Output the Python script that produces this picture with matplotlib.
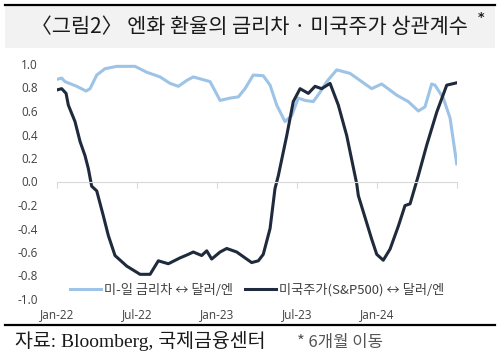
import matplotlib.pyplot as plt
import matplotlib.lines as mlines

plt.rcParams['font.family'] = ['Noto Sans CJK KR', 'DejaVu Sans']

# months since Jan-2022
rate_x = [0.02, 0.35, 0.6, 1.48, 2.18, 2.48, 2.98, 3.6, 4.48, 5.85, 6.73, 7.73, 8.48, 9.1, 9.73,
          10.22, 11.48, 12.23, 12.98, 13.6, 14.1, 14.72, 15.47, 15.98, 16.48, 17.1, 17.6, 18.1,
          18.6, 19.22, 19.73, 20.23, 20.98, 21.98, 22.73, 23.6, 24.35, 25.48, 26.35, 27.1, 27.6,
          28.1, 28.35, 28.97, 29.48, 29.98]
rate_y = [0.87, 0.88, 0.85, 0.81, 0.77, 0.79, 0.906, 0.96, 0.98, 0.98, 0.93, 0.89, 0.835, 0.81, 0.86,
          0.89, 0.85, 0.69, 0.71, 0.72, 0.79, 0.906, 0.90, 0.82, 0.65, 0.51, 0.56, 0.71,
          0.69, 0.68, 0.76, 0.85, 0.95, 0.92, 0.86, 0.79, 0.83, 0.735, 0.68, 0.60, 0.635,
          0.83, 0.82, 0.71, 0.54, 0.15]

spx_x = [0.02, 0.35, 0.68, 0.85, 1.35, 1.73, 2.1, 2.35, 2.6, 2.98, 3.47, 3.85, 4.35, 5.23, 6.23,
         6.98, 7.6, 8.35, 9.23, 9.85, 10.22, 10.85, 11.23, 11.6, 12.23, 12.73, 13.48, 14.1, 14.6,
         15.1, 15.47, 15.98, 16.35, 16.6, 17.23, 17.72, 18.23, 18.85, 19.35, 19.85, 20.48, 21.1,
         21.73, 22.48, 22.6, 23.6, 23.98, 24.47, 24.98, 25.6, 26.1, 26.48, 27.1, 27.73, 28.48,
         29.23, 29.98]
spx_y = [0.78, 0.79, 0.75, 0.65, 0.51, 0.34, 0.22, 0.11, -0.04, -0.08, -0.29, -0.46, -0.63, -0.72, -0.79,
         -0.79, -0.675, -0.70, -0.65, -0.62, -0.60, -0.63, -0.59, -0.66, -0.60, -0.57, -0.60, -0.65, -0.69,
         -0.675, -0.62, -0.40, -0.06, 0.05, 0.39, 0.68, 0.79, 0.75, 0.81, 0.79, 0.835, 0.65,
         0.39, -0.02, -0.12, -0.49, -0.62, -0.67, -0.575, -0.38, -0.205, -0.19, 0.05, 0.31, 0.59,
         0.82, 0.84]

tick_pos = [0, 6, 12, 18, 24]
tick_labels = ['Jan-22', 'Jul-22', 'Jan-23', 'Jul-23', 'Jan-24']
yticks = [1.0, 0.8, 0.6, 0.4, 0.2, 0.0, -0.2, -0.4, -0.6, -0.8, -1.0]

blue = '#9dc3e6'
navy = '#1f2a3c'
txt = '#404040'

W, H = 500, 357
fig = plt.figure(figsize=(5, 3.57), dpi=100)
fig.patch.set_facecolor('white')

# title band
fig.patches.append(plt.Rectangle((5 / W, 1 - 48 / H), 490 / W, 43 / H, transform=fig.transFigure,
                                 facecolor='#f2f2f2', edgecolor='none', zorder=0))
fig.lines.append(mlines.Line2D([5 / W, 495 / W], [1 - 5 / H, 1 - 5 / H], transform=fig.transFigure,
                               color='black', linewidth=1.6))
fig.text(249 / W, 1 - 27 / H, '〈그림2〉 엔화 환율의 금리차 · 미국주가 상관계수', ha='center', va='center',
         fontsize=15, color='#1a1a1a')
fig.text(481 / W, 1 - 17 / H, '*', ha='center', va='center', fontsize=9, color='#1a1a1a',
         family=['DejaVu Sans'], weight='bold')

ax = fig.add_axes([57 / W, 1 - 299 / H, 400 / W, 235 / H])
ax.plot(rate_x, rate_y, color=blue, linewidth=2.2, label='미-일 금리차 ↔ 달러/엔')
ax.plot(spx_x, spx_y, color=navy, linewidth=2.2, label='미국주가(S&P500) ↔ 달러/엔')
ax.set_xlim(0, 30)
ax.set_ylim(-1.0, 1.0)

for s in ['top', 'right', 'left']:
    ax.spines[s].set_visible(False)
ax.spines['bottom'].set_position(('data', 0))
ax.spines['bottom'].set_color('#d9d9d9')
ax.spines['bottom'].set_bounds(0, 30)
ax.set_xticks(tick_pos + [30])
ax.set_xticklabels([])
ax.tick_params(axis='x', length=4, color='#d9d9d9')
for p, lab in zip(tick_pos, tick_labels):
    ax.text(p, -1.075, lab, ha='center', va='top', fontsize=8.5, color=txt, family='Open Sans')

ax.set_yticks(yticks)
ax.set_yticklabels(['%.1f' % v for v in yticks], family='Open Sans', fontsize=8.5, color=txt)
ax.tick_params(axis='y', length=0, pad=14)

ax.legend(loc='center', bbox_to_anchor=(0.5, 9 / 235), ncol=2, frameon=False, fontsize=9.5,
          handlelength=2.4, handletextpad=0.2, columnspacing=0.9, labelcolor=txt)

# bottom rule and source
fig.lines.append(mlines.Line2D([5 / W, 495 / W], [1 - 325 / H, 1 - 325 / H], transform=fig.transFigure,
                               color='black', linewidth=1.6))
fig.text(15 / W, 1 - 341 / H, '자료: Bloomberg, 국제금융센터', ha='left', va='center', fontsize=14,
         color='#1a1a1a', family=['Liberation Serif', 'Noto Sans CJK KR'])
fig.text(297 / W, 1 - 342 / H, '* 6개월 이동', ha='left', va='center', fontsize=12, color='#555555')

fig.savefig('out.png', dpi=100)
